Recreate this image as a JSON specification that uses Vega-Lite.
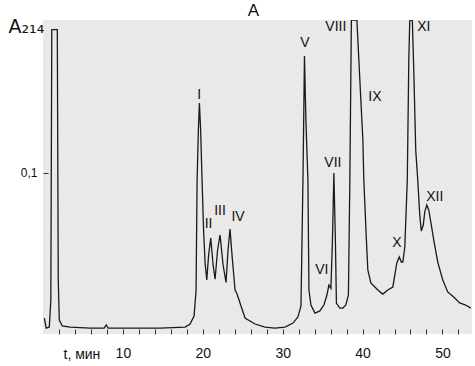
{
  "$schema": "https://vega.github.io/schema/vega-lite/v6.json",
  "autosize": {"type": "none"},
  "width": 429,
  "height": 314,
  "padding": {"left": 43, "top": 20, "right": 3, "bottom": 32},
  "background": "#ffffff",
  "config": {
    "view": {"fill": "#e9e9e9", "stroke": null},
    "font": "Liberation Sans"
  },
  "title": {"text": "A", "fontSize": 17, "fontWeight": "normal", "font": "Liberation Sans", "color": "#111", "anchor": "middle", "offset": -3, "dx": -4},
  "datasets": {
    "trace": [
      {"t": 0.16, "a": 0.0099}, {"t": 0.41, "a": 0.0037}, {"t": 0.79, "a": 0.0043},
      {"t": 0.98, "a": 0.021}, {"t": 1.1, "a": 0.189}, {"t": 1.79, "a": 0.189},
      {"t": 1.91, "a": 0.0335}, {"t": 2.04, "a": 0.0087}, {"t": 2.41, "a": 0.005},
      {"t": 3.41, "a": 0.0043}, {"t": 5.91, "a": 0.0037}, {"t": 7.66, "a": 0.0037},
      {"t": 7.91, "a": 0.0056}, {"t": 8.16, "a": 0.0037}, {"t": 10.9, "a": 0.0037},
      {"t": 14.66, "a": 0.0037}, {"t": 17.79, "a": 0.0043}, {"t": 18.41, "a": 0.0062},
      {"t": 18.91, "a": 0.0112}, {"t": 19.16, "a": 0.027}, {"t": 19.29, "a": 0.0957},
      {"t": 19.45, "a": 0.1267}, {"t": 19.58, "a": 0.1435}, {"t": 19.73, "a": 0.1267},
      {"t": 19.91, "a": 0.0957}, {"t": 20.1, "a": 0.0646}, {"t": 20.29, "a": 0.0441},
      {"t": 20.5, "a": 0.0335}, {"t": 20.73, "a": 0.049}, {"t": 21.0, "a": 0.0596},
      {"t": 21.29, "a": 0.043}, {"t": 21.54, "a": 0.034}, {"t": 21.85, "a": 0.052},
      {"t": 22.16, "a": 0.0615}, {"t": 22.54, "a": 0.043}, {"t": 22.91, "a": 0.032},
      {"t": 23.16, "a": 0.052}, {"t": 23.41, "a": 0.0652}, {"t": 23.66, "a": 0.049},
      {"t": 24.04, "a": 0.0273}, {"t": 24.29, "a": 0.0248}, {"t": 24.66, "a": 0.0193},
      {"t": 25.29, "a": 0.0099}, {"t": 26.54, "a": 0.0062}, {"t": 27.79, "a": 0.0043},
      {"t": 29.04, "a": 0.0037}, {"t": 30.29, "a": 0.0043}, {"t": 31.29, "a": 0.0068},
      {"t": 31.91, "a": 0.0106}, {"t": 32.29, "a": 0.0174}, {"t": 32.54, "a": 0.0956},
      {"t": 32.73, "a": 0.1727}, {"t": 32.91, "a": 0.1323}, {"t": 33.16, "a": 0.0957},
      {"t": 33.29, "a": 0.0273}, {"t": 33.54, "a": 0.018}, {"t": 34.04, "a": 0.013},
      {"t": 34.66, "a": 0.0143}, {"t": 35.16, "a": 0.018}, {"t": 35.54, "a": 0.0242},
      {"t": 35.79, "a": 0.0304}, {"t": 36.04, "a": 0.0284}, {"t": 36.23, "a": 0.058},
      {"t": 36.41, "a": 0.1}, {"t": 36.6, "a": 0.058}, {"t": 36.73, "a": 0.0190},
      {"t": 37.16, "a": 0.0161}, {"t": 37.54, "a": 0.0161}, {"t": 37.91, "a": 0.018},
      {"t": 38.23, "a": 0.0242}, {"t": 38.41, "a": 0.0957}, {"t": 38.6, "a": 0.195},
      {"t": 39.29, "a": 0.195}, {"t": 39.54, "a": 0.17}, {"t": 39.79, "a": 0.145},
      {"t": 40.04, "a": 0.1205}, {"t": 40.16, "a": 0.0957}, {"t": 40.48, "a": 0.0584},
      {"t": 40.66, "a": 0.0398}, {"t": 41.04, "a": 0.0317}, {"t": 41.91, "a": 0.0273},
      {"t": 42.54, "a": 0.0248}, {"t": 43.16, "a": 0.0273}, {"t": 43.79, "a": 0.0292},
      {"t": 44.29, "a": 0.0441}, {"t": 44.6, "a": 0.0478}, {"t": 44.85, "a": 0.0447},
      {"t": 45.04, "a": 0.0447}, {"t": 45.29, "a": 0.0540}, {"t": 45.6, "a": 0.0957},
      {"t": 45.79, "a": 0.17}, {"t": 45.91, "a": 0.195}, {"t": 46.23, "a": 0.195},
      {"t": 46.41, "a": 0.164}, {"t": 46.66, "a": 0.114}, {"t": 46.91, "a": 0.0957},
      {"t": 47.16, "a": 0.0739}, {"t": 47.35, "a": 0.0640}, {"t": 47.6, "a": 0.0677},
      {"t": 47.79, "a": 0.0758}, {"t": 48.04, "a": 0.0801}, {"t": 48.29, "a": 0.077},
      {"t": 48.54, "a": 0.0696}, {"t": 48.91, "a": 0.0584}, {"t": 49.41, "a": 0.0447},
      {"t": 50.04, "a": 0.0335}, {"t": 50.66, "a": 0.0261}, {"t": 51.41, "a": 0.0230},
      {"t": 52.16, "a": 0.0193}, {"t": 52.91, "a": 0.018}, {"t": 53.54, "a": 0.0161}
    ],
    "labels": [
      {"t": 19.54, "a": 0.1484, "name": "I"},
      {"t": 20.73, "a": 0.0683, "name": "II"},
      {"t": 22.16, "a": 0.0764, "name": "III"},
      {"t": 24.41, "a": 0.0727, "name": "IV"},
      {"t": 32.79, "a": 0.1807, "name": "V"},
      {"t": 34.91, "a": 0.0398, "name": "VI"},
      {"t": 36.29, "a": 0.1062, "name": "VII"},
      {"t": 36.66, "a": 0.1907, "name": "VIII"},
      {"t": 41.54, "a": 0.1472, "name": "IX"},
      {"t": 44.29, "a": 0.0565, "name": "X"},
      {"t": 47.66, "a": 0.1907, "name": "XI"},
      {"t": 49.04, "a": 0.0851, "name": "XII"}
    ]
  },
  "layer": [
    {
      "data": {"name": "trace"},
      "mark": {"type": "line", "color": "#1a1a1a", "strokeWidth": 1.3, "clip": true},
      "encoding": {
        "x": {
          "field": "t", "type": "quantitative",
          "scale": {"domain": [0, 53.7], "nice": false, "zero": false},
          "axis": {
            "orient": "bottom", "offset": -5, "domain": false, "zindex": 1,
            "title": "t, мин", "titleFont": "Liberation Sans", "titleFontSize": 14, "titleFontWeight": "normal",
            "titleColor": "#111", "titleAlign": "left", "titleBaseline": "alphabetic", "titleX": 20, "titleY": 29,
            "values": [2,4,6,8,10,12,14,16,18,20,22,24,26,28,30,32,34,36,38,40,42,44,46,48,50,52],
            "tickCount": 100,
            "labelExpr": "datum.value % 10 == 0 ? '' + datum.value : ''",
            "labelFontSize": 14, "labelColor": "#111", "labelFont": "Liberation Sans",
            "ticks": true, "tickSize": 5, "tickColor": "#333", "tickWidth": 1,
            "labelPadding": 12,
            "grid": false, "labelFlush": false, "labelOverlap": false, "labelBound": false
          }
        },
        "y": {
          "field": "a", "type": "quantitative",
          "scale": {"domain": [0, 0.195], "nice": false},
          "axis": {
            "orient": "left", "offset": -5, "domain": false, "zindex": 1,
            "title": "A₂₁₄", "titleFont": "DejaVu Sans", "titleFontSize": 19, "titleFontWeight": "normal",
            "titleColor": "#111", "titleAngle": 0, "titleAlign": "left", "titleBaseline": "alphabetic",
            "titleX": -40, "titleY": 12,
            "values": [0.1],
            "labelExpr": "'0,1'",
            "labelFontSize": 12, "labelColor": "#111", "labelFont": "Liberation Sans",
            "ticks": true, "tickSize": 5, "tickColor": "#333", "tickWidth": 1,
            "labelPadding": 6,
            "grid": false
          }
        }
      }
    },
    {
      "mark": {"type": "rule", "color": "#222", "strokeWidth": 1.2},
      "encoding": {"y": {"datum": 0}}
    },
    {
      "mark": {"type": "rule", "color": "#222", "strokeWidth": 1.2},
      "encoding": {"x": {"datum": 0}}
    },
    {
      "data": {"name": "labels"},
      "mark": {"type": "text", "fontSize": 14, "font": "Liberation Sans", "color": "#111", "align": "center", "baseline": "middle"},
      "encoding": {
        "x": {"field": "t", "type": "quantitative"},
        "y": {"field": "a", "type": "quantitative"},
        "text": {"field": "name"}
      }
    }
  ]
}
